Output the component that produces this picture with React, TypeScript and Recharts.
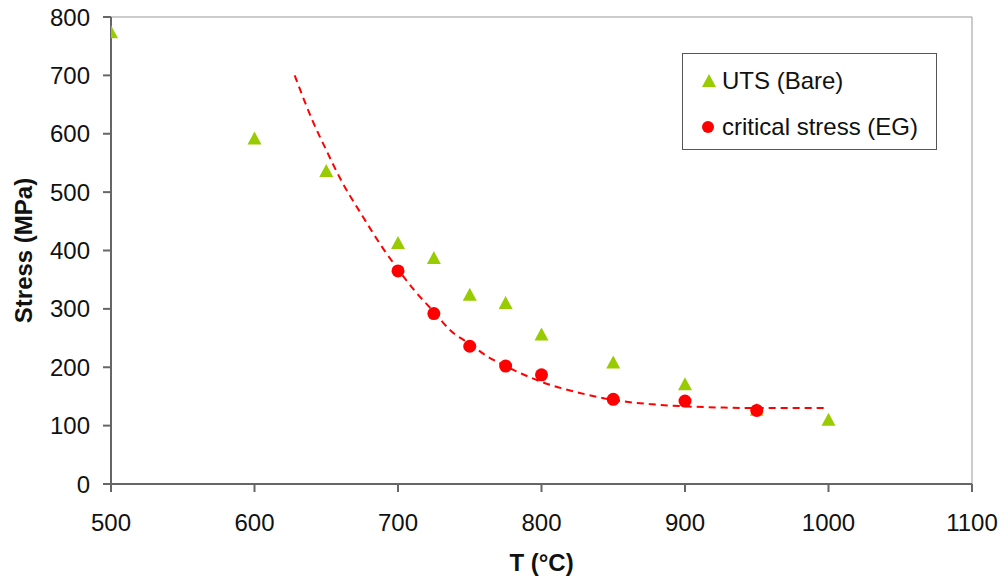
import React from 'react';
import {
  ComposedChart,
  Scatter,
  Line,
  XAxis,
  YAxis,
  ReferenceLine,
  Label,
} from 'recharts';

// UTS of bare specimens
const utsTemps = [500, 600, 650, 700, 725, 750, 775, 800, 850, 900, 950, 1000];
const utsStress = [774, 592, 536, 413, 387, 324, 310, 256, 208, 171, 127, 110];

// critical stress of EG specimens
const egTemps = [700, 725, 750, 775, 800, 850, 900, 950];
const egStress = [365, 292, 236, 202, 187, 145, 142, 126];

// dashed trend through the EG points
const fitTemps = [628, 640, 650, 660, 675, 690, 700, 712, 725, 737, 750, 762, 775, 787, 800, 825, 850, 875, 900, 925, 950, 975, 1000];
const fitStress = [700, 625, 572, 522, 460, 402, 368, 330, 295, 262, 240, 219, 202, 188, 175, 157, 144, 137, 133, 131, 130, 130, 130];

const xTicks = [500, 600, 700, 800, 900, 1000, 1100];
const yTicks = [0, 100, 200, 300, 400, 500, 600, 700, 800];

const utsData = utsTemps.map((t, i) => ({ t, s: utsStress[i] }));
const egData = egTemps.map((t, i) => ({ t, s: egStress[i] }));
const fitData = fitTemps.map((t, i) => ({ t, s: fitStress[i] }));

const GREEN = '#99cc00';
const RED = '#ff0000';
const FONT = 'Arial, "Liberation Sans", sans-serif';

const Triangle = (props: any) => {
  const { cx, cy } = props;
  if (cx == null || cy == null) return null;
  return <polygon points={`${cx},${cy - 7} ${cx - 7},${cy + 6} ${cx + 7},${cy + 6}`} fill={GREEN} />;
};

const Dot = (props: any) => {
  const { cx, cy } = props;
  if (cx == null || cy == null) return null;
  return <circle cx={cx} cy={cy} r={6.5} fill={RED} />;
};

const LegendBox = () => (
  <div
    style={{
      position: 'absolute',
      left: 682,
      top: 53,
      width: 255,
      height: 97,
      border: '1.5px solid #555',
      background: '#fff',
      boxSizing: 'border-box',
      fontFamily: FONT,
      fontSize: 24,
      color: '#111',
    }}
  >
    <div style={{ position: 'absolute', left: 17, top: 12, display: 'flex', alignItems: 'center', height: 30, whiteSpace: 'nowrap' }}>
      <svg width={18} height={18} style={{ marginRight: 4 }}>
        <polygon points="9,2 2,15 16,15" fill={GREEN} />
      </svg>
      UTS (Bare)
    </div>
    <div style={{ position: 'absolute', left: 17, top: 58, display: 'flex', alignItems: 'center', height: 30, whiteSpace: 'nowrap' }}>
      <svg width={18} height={18} style={{ marginRight: 4 }}>
        <circle cx={8} cy={9} r={6} fill={RED} />
      </svg>
      critical stress (EG)
    </div>
  </div>
);

export default function App() {
  return (
    <div style={{ position: 'relative', width: 1001, height: 577 }}>
      <style>{'body { margin: 0; }'}</style>
      <ComposedChart
        width={1001}
        height={577}
        margin={{ top: 17, right: 29, bottom: 0, left: 0 }}
        style={{ fontFamily: FONT }}
      >
        <XAxis
          type="number"
          dataKey="t"
          domain={[500, 1100]}
          ticks={xTicks}
          allowDataOverflow
          height={93}
          tickSize={8}
          tickMargin={22}
          stroke="#666"
          strokeWidth={2}
          tick={{ fill: '#111', fontSize: 24 }}
        >
          <Label value="T (°C)" position="insideBottom" offset={6} fill="#111" fontSize={24} fontWeight="bold" />
        </XAxis>
        <YAxis
          type="number"
          dataKey="s"
          domain={[0, 800]}
          ticks={yTicks}
          width={111}
          tickSize={8}
          tickMargin={13}
          stroke="#666"
          strokeWidth={2}
          tick={{ fill: '#111', fontSize: 24 }}
        >
          <Label value="Stress (MPa)" angle={-90} position="center" dx={-32} fill="#111" fontSize={24} fontWeight="bold" />
        </YAxis>
        <ReferenceLine y={800} stroke="#999" strokeWidth={1} />
        <ReferenceLine x={1100} stroke="#999" strokeWidth={1} />
        <Line
          data={fitData}
          dataKey="s"
          type="monotone"
          stroke={RED}
          strokeWidth={2}
          strokeDasharray="7 5"
          dot={false}
          activeDot={false}
          isAnimationActive={false}
          legendType="none"
        />
        <Scatter data={utsData} dataKey="s" shape={Triangle} isAnimationActive={false} />
        <Scatter data={egData} dataKey="s" shape={Dot} isAnimationActive={false} />
      </ComposedChart>
      <LegendBox />
    </div>
  );
}
